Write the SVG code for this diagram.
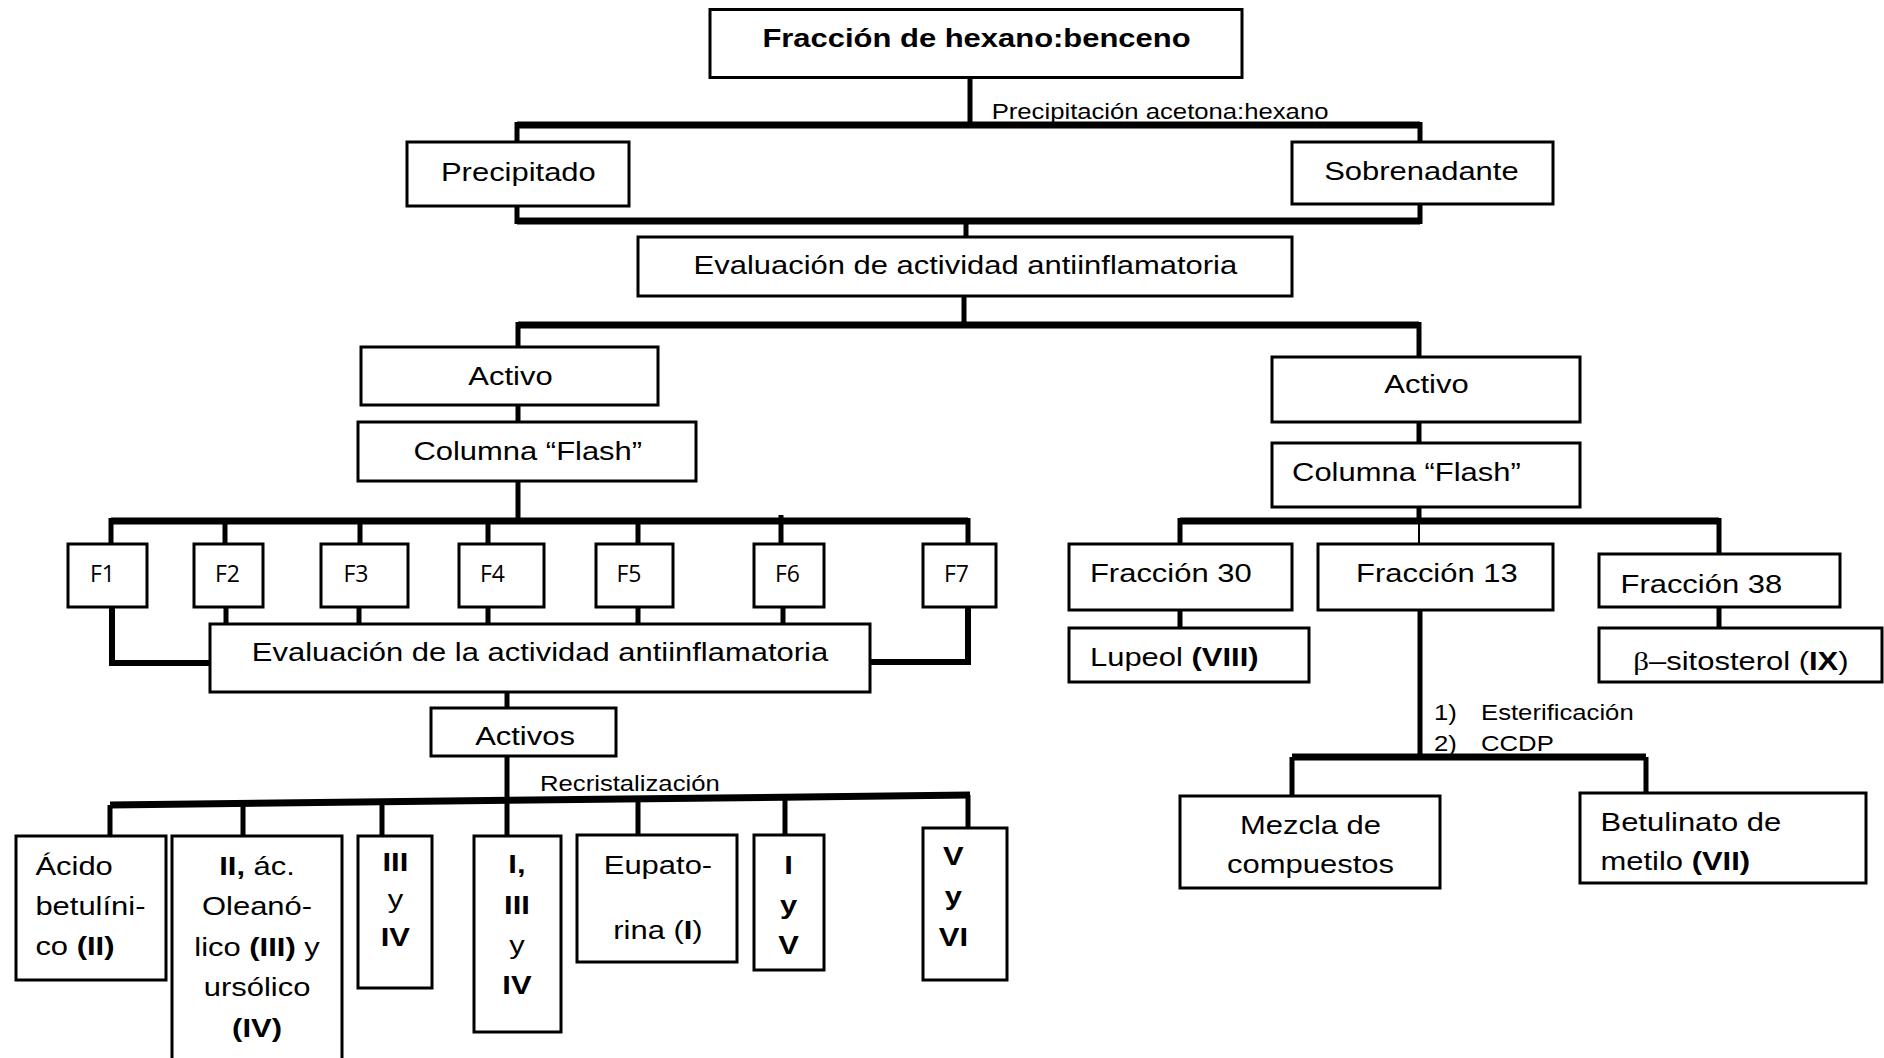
<svg xmlns="http://www.w3.org/2000/svg" width="1884" height="1058" viewBox="0 0 1884 1058">
<style>
.bg{fill:#fff}
.box{fill:#fff;stroke:#000;stroke-width:3}
.bar{fill:none;stroke:#000;stroke-width:7}
.conn{fill:none;stroke:#000;stroke-width:5}
.thin{fill:none;stroke:#000;stroke-width:2}
text{font-family:"Liberation Sans",Arial,sans-serif;font-size:25.8px;fill:#000}
.b{font-weight:bold}
.s{font-size:21.4px}
.m{text-anchor:middle}
.f{font-family:"Open Sans","Noto Sans",sans-serif;font-size:23px;text-anchor:middle}
.g{font-family:"Liberation Serif",serif}
</style>
<rect class="bg" x="0" y="0" width="1884" height="1058"/>

<g id="connectors">
  <path class="conn" d="M970,78 V125"/>
  <path class="bar" d="M517,125 H1420"/>
  <path class="conn" d="M517,122 V142 M1420,122 V142"/>
  <path class="conn" d="M517,206 V224 M1420,204 V224"/>
  <path class="bar" d="M517,221 H1420"/>
  <path class="conn" d="M966,221 V237"/>
  <path class="conn" d="M964,296 V325"/>
  <path class="bar" d="M518,325 H1419"/>
  <path class="conn" d="M518,322 V347 M1419,322 V357"/>
  <path class="conn" d="M518,405 V422"/>
  <path class="conn" d="M518,481 V521"/>
  <path class="bar" d="M111,521 H968"/>
  <path class="conn" d="M111,518 V544 M225,521 V544 M360,521 V544 M488,521 V544 M638,521 V544 M781,515 V544 M968,518 V544"/>
  <path class="conn" d="M226,607 V624 M359,607 V624 M488,607 V624 M638,607 V624 M783,607 V624"/>
  <path class="conn" style="stroke-width:6" d="M112,607 V663 H210"/>
  <path class="conn" style="stroke-width:6" d="M968,592 V662 H870"/>
  <path class="conn" d="M507,692 V708"/>
  <path class="conn" d="M507,756 V800"/>
  <path class="bar" d="M110,805 L970,795"/>
  <path class="conn" d="M110,805 V836 M243,803 V836 M382,802 V836 M507,800 V836 M638,799 V835 M785,797 V835 M968,795 V828"/>
  <path class="conn" d="M1419,422 V443"/>
  <path class="conn" d="M1419,507 V521"/>
  <path class="bar" d="M1180,521 H1719"/>
  <path class="conn" d="M1180,518 V544 M1719,518 V554"/>
  <path class="thin" d="M1419,521 V544"/>
  <path class="conn" d="M1180,610 V628 M1719,607 V628"/>
  <path class="conn" d="M1420,610 V757"/>
  <path class="bar" d="M1292,757 H1646"/>
  <path class="conn" d="M1292,757 V796 M1646,757 V793"/>
  <text class="s" transform="scale(1.2 1)" x="826.4" y="119">Precipitación acetona:hexano</text>
  <text class="s" transform="scale(1.2 1)" x="450" y="791.5">Recristalización</text>
  <text class="s" transform="scale(1.2 1)" x="1195" y="720">1)</text>
  <text class="s" transform="scale(1.2 1)" x="1234.2" y="720">Esterificación</text>
  <text class="s" transform="scale(1.2 1)" x="1195" y="751.5">2)</text>
  <text class="s" transform="scale(1.2 1)" x="1234.2" y="751.5">CCDP</text>
</g>

<g id="n-hexbenceno">
  <rect class="box" x="710" y="9.5" width="532" height="68"/>
  <text class="b m" transform="scale(1.2 1)" x="813.75" y="47.5">Fracción de hexano:benceno</text>
</g>
<g id="n-precipitado">
  <rect class="box" x="407" y="142" width="222" height="64"/>
  <text class="m" transform="scale(1.2 1)" x="432" y="181">Precipitado</text>
</g>
<g id="n-sobrenadante">
  <rect class="box" x="1292" y="142" width="261" height="62"/>
  <text class="m" transform="scale(1.2 1)" x="1184.5" y="180">Sobrenadante</text>
</g>
<g id="n-evaluacion1">
  <rect class="box" x="638" y="237" width="654" height="59"/>
  <text class="m" transform="scale(1.2 1)" x="804.5" y="274">Evaluación de actividad antiinflamatoria</text>
</g>
<g id="n-activo-l">
  <rect class="box" x="361" y="347" width="297" height="58"/>
  <text class="m" transform="scale(1.2 1)" x="425.4" y="385">Activo</text>
</g>
<g id="n-columna-l">
  <rect class="box" x="358" y="422" width="338" height="59"/>
  <text class="m" transform="scale(1.2 1)" x="439.8" y="460">Columna “Flash”</text>
</g>
<g id="n-f1"><rect class="box" x="68" y="544" width="79" height="63"/><text class="f" x="102.5" y="582">F1</text></g>
<g id="n-f2"><rect class="box" x="194" y="544" width="69" height="63"/><text class="f" x="227.5" y="582">F2</text></g>
<g id="n-f3"><rect class="box" x="321" y="544" width="87" height="63"/><text class="f" x="356" y="582">F3</text></g>
<g id="n-f4"><rect class="box" x="459" y="544" width="85" height="63"/><text class="f" x="492.5" y="582">F4</text></g>
<g id="n-f5"><rect class="box" x="596" y="544" width="77" height="63"/><text class="f" x="629" y="582">F5</text></g>
<g id="n-f6"><rect class="box" x="754" y="544" width="70" height="63"/><text class="f" x="787.5" y="582">F6</text></g>
<g id="n-f7"><rect class="box" x="923" y="544" width="73" height="63"/><text class="f" x="956.5" y="582">F7</text></g>
<g id="n-evaluacion2">
  <rect class="box" x="210" y="624" width="660" height="68"/>
  <text class="m" transform="scale(1.2 1)" x="450" y="661">Evaluación de la actividad antiinflamatoria</text>
</g>
<g id="n-activos">
  <rect class="box" x="431" y="708" width="185" height="48"/>
  <text class="m" transform="scale(1.2 1)" x="437.5" y="745">Activos</text>
</g>
<g id="n-acido">
  <rect class="box" x="16" y="836" width="150" height="144"/>
  <text transform="scale(1.2 1)" x="29.5" y="875">Ácido</text>
  <text transform="scale(1.2 1)" x="29.5" y="915">betulíni-</text>
  <text transform="scale(1.2 1)" x="29.5" y="955">co <tspan class="b">(II)</tspan></text>
</g>
<g id="n-oleanolico">
  <rect class="box" x="172" y="836" width="170" height="230"/>
  <text class="m" transform="scale(1.2 1)" x="214.2" y="875"><tspan class="b">II,</tspan> ác.</text>
  <text class="m" transform="scale(1.2 1)" x="214.2" y="915.5">Oleanó-</text>
  <text class="m" transform="scale(1.2 1)" x="214.2" y="956">lico <tspan class="b">(III)</tspan> y</text>
  <text class="m" transform="scale(1.2 1)" x="214.2" y="996.5">ursólico</text>
  <text class="m b" transform="scale(1.2 1)" x="214.2" y="1037">(IV)</text>
</g>
<g id="n-iii-iv">
  <rect class="box" x="358" y="836" width="74" height="152"/>
  <text class="m b" transform="scale(1.2 1)" x="329.5" y="871">III</text>
  <text class="m" transform="scale(1.2 1)" x="329.5" y="908.5">y</text>
  <text class="m b" transform="scale(1.2 1)" x="329.5" y="946">IV</text>
</g>
<g id="n-i-iii-iv">
  <rect class="box" x="474" y="836" width="87" height="196"/>
  <text class="m b" transform="scale(1.2 1)" x="430.8" y="873">I,</text>
  <text class="m b" transform="scale(1.2 1)" x="430.8" y="914">III</text>
  <text class="m" transform="scale(1.2 1)" x="430.8" y="954">y</text>
  <text class="m b" transform="scale(1.2 1)" x="430.8" y="994">IV</text>
</g>
<g id="n-eupatorina">
  <rect class="box" x="577" y="835" width="160" height="127"/>
  <text class="m" transform="scale(1.2 1)" x="548.3" y="874">Eupato-</text>
  <text class="m" transform="scale(1.2 1)" x="548.3" y="939">rina (<tspan class="b">I</tspan>)</text>
</g>
<g id="n-i-v">
  <rect class="box" x="754" y="835" width="70" height="135"/>
  <text class="m b" transform="scale(1.2 1)" x="657.2" y="874">I</text>
  <text class="m b" transform="scale(1.2 1)" x="657.2" y="914">y</text>
  <text class="m b" transform="scale(1.2 1)" x="657.2" y="954">V</text>
</g>
<g id="n-v-vi">
  <rect class="box" x="923" y="828" width="84" height="152"/>
  <text class="m b" transform="scale(1.2 1)" x="794.5" y="865">V</text>
  <text class="m b" transform="scale(1.2 1)" x="794.5" y="905">y</text>
  <text class="m b" transform="scale(1.2 1)" x="794.5" y="946">VI</text>
</g>
<g id="n-activo-r">
  <rect class="box" x="1272" y="357" width="308" height="65"/>
  <text class="m" transform="scale(1.2 1)" x="1188.75" y="393.5">Activo</text>
</g>
<g id="n-columna-r">
  <rect class="box" x="1272" y="443" width="308" height="64"/>
  <text transform="scale(1.2 1)" x="1076.7" y="481.5">Columna “Flash”</text>
</g>
<g id="n-fraccion30">
  <rect class="box" x="1069" y="544" width="223" height="66"/>
  <text transform="scale(1.2 1)" x="908.3" y="582.5">Fracción 30</text>
</g>
<g id="n-fraccion13">
  <rect class="box" x="1318" y="544" width="235" height="66"/>
  <text transform="scale(1.2 1)" x="1130" y="582.5">Fracción 13</text>
</g>
<g id="n-fraccion38">
  <rect class="box" x="1599" y="554" width="241" height="53"/>
  <text transform="scale(1.2 1)" x="1350.4" y="593">Fracción 38</text>
</g>
<g id="n-lupeol">
  <rect class="box" x="1069" y="628" width="240" height="54"/>
  <text transform="scale(1.2 1)" x="908.3" y="666">Lupeol <tspan class="b">(VIII)</tspan></text>
</g>
<g id="n-sitosterol">
  <rect class="box" x="1599" y="628" width="283" height="54"/>
  <text class="m" transform="scale(1.2 1)" x="1450.8" y="670"><tspan class="g">β</tspan>–sitosterol (<tspan class="b">IX</tspan>)</text>
</g>
<g id="n-mezcla">
  <rect class="box" x="1180" y="796" width="260" height="92"/>
  <text class="m" transform="scale(1.2 1)" x="1092.1" y="834">Mezcla de</text>
  <text class="m" transform="scale(1.2 1)" x="1092.1" y="873">compuestos</text>
</g>
<g id="n-betulinato">
  <rect class="box" x="1580" y="793" width="286" height="90"/>
  <text transform="scale(1.2 1)" x="1333.75" y="831.5">Betulinato de</text>
  <text transform="scale(1.2 1)" x="1333.75" y="870.5">metilo <tspan class="b">(VII)</tspan></text>
</g>
</svg>
